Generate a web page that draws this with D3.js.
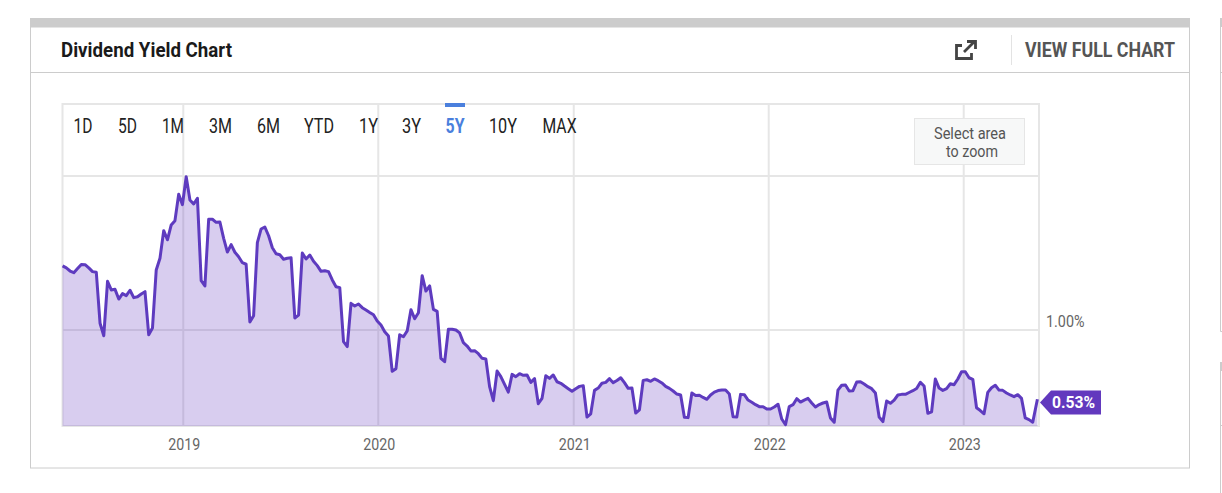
<!DOCTYPE html>
<html>
<head>
<meta charset="utf-8">
<script src="https://cdn.jsdelivr.net/npm/d3@7"></script>
<style>
html, body { margin: 0; padding: 0; background: #fff; overflow: hidden; }
svg { display: block; }
text { font-family: Roboto, sans-serif; }
</style>
</head>
<body>
<div id="chart"></div>
<script>
// weekly dividend yield (%), 5Y view
var firstWeek = '2018-05-20', lastDay = '2023-05-19';
var stepHours = 168.3; // readings drift a little against a strict 7 days
var yields = [
  1.416,1.403,1.383,1.372,1.399,1.426,1.424,1.403,1.379,1.375,
  1.044,0.963,1.316,1.260,1.264,1.201,1.236,1.223,1.258,1.210,
  1.216,1.234,1.249,0.969,1.013,1.390,1.466,1.645,1.586,1.682,
  1.710,1.881,1.814,1.995,1.844,1.818,1.855,1.320,1.286,1.719,
  1.719,1.699,1.701,1.595,1.506,1.554,1.505,1.476,1.437,1.427,
  1.052,1.093,1.567,1.656,1.669,1.612,1.534,1.495,1.489,1.459,
  1.466,1.469,1.078,1.097,1.500,1.461,1.487,1.446,1.418,1.381,
  1.385,1.379,1.325,1.281,1.275,0.924,0.892,1.173,1.156,1.169,
  1.145,1.130,1.114,1.099,1.058,1.032,0.989,0.961,0.732,0.749,
  0.969,0.956,0.994,1.132,1.073,1.112,1.353,1.253,1.286,1.134,
  1.121,0.816,0.794,1.005,1.005,1.000,0.981,0.918,0.896,0.864,
  0.866,0.846,0.816,0.812,0.632,0.541,0.734,0.697,0.647,0.597,
  0.712,0.697,0.716,0.706,0.708,0.660,0.684,0.521,0.556,0.703,
  0.686,0.708,0.664,0.654,0.636,0.619,0.602,0.619,0.634,0.638,
  0.435,0.456,0.608,0.623,0.654,0.660,0.684,0.658,0.672,0.690,
  0.658,0.621,0.623,0.461,0.482,0.673,0.677,0.667,0.682,0.671,
  0.656,0.634,0.621,0.604,0.584,0.578,0.433,0.431,0.591,0.575,
  0.576,0.562,0.550,0.578,0.597,0.607,0.610,0.610,0.584,0.437,
  0.435,0.582,0.580,0.545,0.531,0.515,0.502,0.502,0.487,0.487,
  0.500,0.518,0.422,0.385,0.503,0.515,0.554,0.532,0.545,0.556,
  0.526,0.500,0.516,0.526,0.532,0.429,0.401,0.610,0.641,0.643,
  0.604,0.606,0.662,0.664,0.649,0.632,0.619,0.591,0.435,0.405,
  0.539,0.524,0.545,0.578,0.582,0.582,0.594,0.606,0.620,0.660,
  0.636,0.459,0.469,0.682,0.623,0.608,0.619,0.651,0.645,0.682,
  0.729,0.729,0.690,0.680,0.495,0.477,0.456,0.595,0.625,0.641,
  0.610,0.608,0.591,0.578,0.567,0.580,0.556,0.429,0.418,0.401,
  0.550
];
var yearTicks = ['2019-01-01','2020-01-01','2021-01-01','2022-01-01','2023-01-01'];
var yTicks = [1, 2];
var yLabels = ['1.00%'];
var lastValue = 0.53, lastLabel = '0.53%';
var ranges = ['1D','5D','1M','3M','6M','YTD','1Y','3Y','5Y','10Y','MAX'];
var rangeLeft = [73.5,118,162,209,257,304,359,402,445.5,489,542.5];
var rangeWidth = [19,19,22,23,23,30,19,19,19,28,34];
var activeRange = '5Y';

var parse = d3.utcParse('%Y-%m-%d');
var svg = d3.select('#chart').append('svg').attr('width', 1222).attr('height', 493);

var x = d3.scaleUtc()
    .domain([parse('2019-01-01'), parse('2023-01-01')])
    .range([183.3, 963.7]);
var y = d3.scaleLinear().domain([1, 2]).range([330, 176]);

var plotLeft = 62.5, plotRight = 1039, plotTop = 104, plotBottom = 426;

var points = yields.map(function (v, i) {
    var d = d3.utcHour.offset(parse(firstWeek), Math.round(stepHours * i));
    if (i == yields.length - 1) d = parse(lastDay);
    return {date: d, value: v};
});

// card around the chart
svg.append('rect').attr('x', 30.5).attr('y', 27).attr('width', 1159).attr('height', 441)
    .attr('fill', '#fff').attr('stroke', '#ccc');
svg.append('rect').attr('x', 30).attr('y', 18).attr('width', 1160).attr('height', 9).attr('fill', '#ccc');
svg.append('line').attr('x1', 30).attr('x2', 1190).attr('y1', 72.5).attr('y2', 72.5).attr('stroke', '#ccc');
svg.append('line').attr('x1', 1011.5).attr('x2', 1011.5).attr('y1', 35).attr('y2', 65).attr('stroke', '#e3e3e3');

// the next cards, cut off at the window edge
var edge = svg.append('g').attr('stroke', '#ccc').attr('fill', 'none');
edge.append('path').attr('d', 'M1220.5 18 V331.5 H1222 M1220.5 72.5 H1222');
edge.append('path').attr('d', 'M1220.5 362 V493 M1220.5 425.5 H1222');
svg.append('rect').attr('x', 1220).attr('y', 18).attr('width', 2).attr('height', 9).attr('fill', '#ccc');
svg.append('rect').attr('x', 1220).attr('y', 362).attr('width', 2).attr('height', 9).attr('fill', '#ccc');

svg.append('text').text('Dividend Yield Chart')
    .attr('x', 61).attr('y', 57).attr('font-size', 21).attr('font-weight', 700).attr('fill', '#1a1a1a')
    .attr('textLength', 171).attr('lengthAdjust', 'spacingAndGlyphs');
svg.append('text').text('VIEW FULL CHART')
    .attr('x', 1025).attr('y', 57).attr('font-size', 20).attr('font-weight', 700).attr('fill', '#555')
    .attr('textLength', 150).attr('lengthAdjust', 'spacingAndGlyphs');

// open-in-new icon
svg.append('path').attr('d', 'M962 45.5 H956.5 V58.5 H971.5 V53 M964 52 L974 42 M967 41.5 H975.5 V49')
    .attr('fill', 'none').attr('stroke', '#444').attr('stroke-width', 2.8);

// grid and frame
var grid = svg.append('g').attr('stroke', '#e6e6e6').attr('stroke-width', 2);
grid.selectAll('.gx').data(yearTicks).enter().append('line')
    .attr('x1', function (d) { return x(parse(d)); })
    .attr('x2', function (d) { return x(parse(d)); })
    .attr('y1', plotTop).attr('y2', plotBottom);
grid.selectAll('.gy').data(yTicks).enter().append('line')
    .attr('x1', plotLeft).attr('x2', plotRight)
    .attr('y1', function (d) { return y(d); })
    .attr('y2', function (d) { return y(d); });
svg.append('rect').attr('x', plotLeft).attr('y', plotTop)
    .attr('width', plotRight - plotLeft).attr('height', plotBottom - plotTop)
    .attr('fill', 'none').attr('stroke', '#e6e6e6').attr('stroke-width', 2);

// series
var area = d3.area()
    .x(function (d) { return x(d.date); })
    .y0(plotBottom)
    .y1(function (d) { return y(d.value); });
var line = d3.line()
    .x(function (d) { return x(d.date); })
    .y(function (d) { return y(d.value); });
svg.append('path').datum(points).attr('d', area).attr('fill', '#6239be').attr('fill-opacity', 0.25);
svg.append('path').datum(points).attr('d', line)
    .attr('fill', 'none').attr('stroke', '#5e3bbf').attr('stroke-width', 3).attr('stroke-linejoin', 'round');

// axis labels
svg.selectAll('.year').data(yearTicks).enter().append('text')
    .text(function (d) { return d.slice(0, 4); })
    .attr('x', function (d) { return x(parse(d)) - 15; })
    .attr('y', 450).attr('font-size', 16.5).attr('fill', '#666')
    .attr('textLength', 32).attr('lengthAdjust', 'spacingAndGlyphs');
svg.append('text').text(yLabels[0])
    .attr('x', 1046).attr('y', y(1) - 3).attr('font-size', 16.5).attr('fill', '#666')
    .attr('textLength', 38.5).attr('lengthAdjust', 'spacingAndGlyphs');

// last value flag
var flagY = y(lastValue);
svg.append('path')
    .attr('d', 'M1040 ' + flagY + ' L1051 ' + (flagY - 12) + ' H1101 V' + (flagY + 12) + ' H1051 Z')
    .attr('fill', '#6239be');
svg.append('text').text(lastLabel)
    .attr('x', 1052).attr('y', flagY + 6).attr('font-size', 17).attr('font-weight', 700).attr('fill', '#fff')
    .attr('textLength', 43).attr('lengthAdjust', 'spacingAndGlyphs');

// range buttons
ranges.forEach(function (r, i) {
    svg.append('text').text(r)
        .attr('x', rangeLeft[i]).attr('y', 133).attr('font-size', 20)
        .attr('font-weight', r == activeRange ? 700 : 400)
        .attr('fill', r == activeRange ? '#4a7fdd' : '#222')
        .attr('textLength', rangeWidth[i]).attr('lengthAdjust', 'spacingAndGlyphs');
});
var active = ranges.indexOf(activeRange);
svg.append('rect').attr('x', 445).attr('y', 103).attr('width', 20).attr('height', 4).attr('fill', '#4a7fdd');

// zoom hint box
svg.append('rect').attr('x', 914.5).attr('y', 118.5).attr('width', 110).attr('height', 46)
    .attr('fill', '#f7f8f8').attr('stroke', '#e6e6e6');
var hintLines = ['Select area', 'to zoom'], hintWidth = [72, 52];
svg.selectAll('.hint').data(hintLines).enter().append('text')
    .text(function (d) { return d; })
    .attr('x', function (d, i) { return 970 - hintWidth[i] / 2 + (i ? 2 : 0); })
    .attr('y', function (d, i) { return 139 + i * 18; })
    .attr('font-size', 16).attr('fill', '#555')
    .attr('textLength', function (d, i) { return hintWidth[i]; })
    .attr('lengthAdjust', 'spacingAndGlyphs');
</script>
</body>
</html>
